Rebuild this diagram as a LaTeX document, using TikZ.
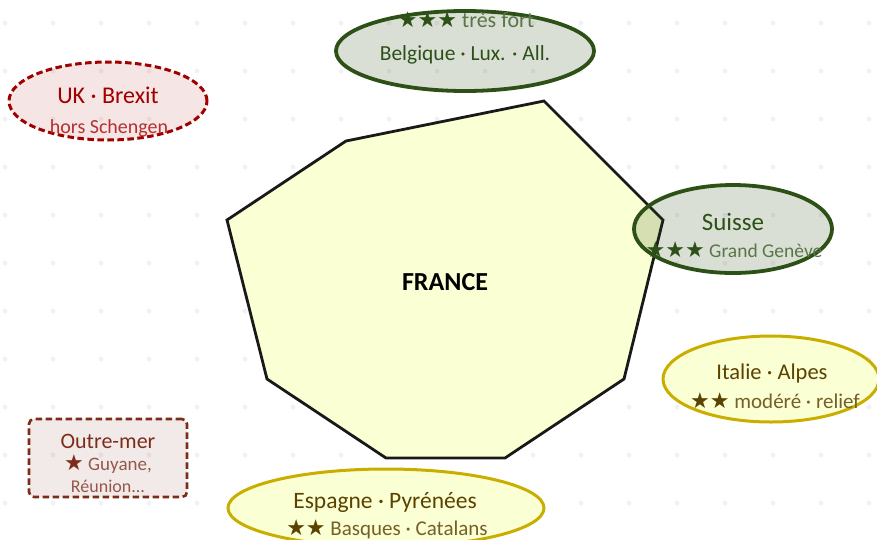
\documentclass[tikz,border=0pt]{standalone}
\usepackage{fontspec}
\setmainfont{Carlito}
\newfontfamily\starfont{DejaVu Sans}
\usetikzlibrary{shapes.geometric}
\definecolor{grn}{HTML}{2D5016}
\definecolor{grnsub}{HTML}{5A7548}
\definecolor{redd}{HTML}{A00000}
\definecolor{redsub}{HTML}{B5302F}
\definecolor{gold}{HTML}{C9AE00}
\definecolor{brn}{HTML}{5C4200}
\definecolor{brnsub}{HTML}{765F28}
\definecolor{rust}{HTML}{7B2D1A}
\definecolor{rustsub}{HTML}{96574A}
\definecolor{paper}{HTML}{FBFFD4}
\newcommand{\strs}[1]{{\starfont\fontsize{22}{22}\selectfont #1}}
\tikzset{
  x=1pt,y=-1pt,
  griddot/.style={circle,fill=black!5,draw=none,minimum size=5pt,inner sep=0pt},
  france/.style={draw=black!90,line width=2.8pt,fill=paper,line join=miter},
  zone/.style={ellipse,inner sep=0pt,line width=#1},
  zone/.default=3.8pt,
  strong/.style={zone,draw=grn,fill=grn,fill opacity=.18,draw opacity=1},
  medium/.style={zone=3pt,draw=gold,fill=paper},
  weakred/.style={zone=3pt,draw=redd,fill=redd,fill opacity=.1,dash pattern=on 6.5pt off 3.5pt},
  weakbox/.style={rectangle,rounded corners=5pt,inner sep=0pt,line width=2.6pt,draw=rust,fill=rust,fill opacity=.1,dash pattern=on 6.5pt off 3.5pt,minimum width=158pt,minimum height=78pt},
  title/.style={inner sep=0pt,font=\fontsize{#1}{#1}\selectfont},
  sub/.style={inner sep=0pt,font=\fontsize{#1}{#1}\selectfont},
}
\begin{document}
\begin{tikzpicture}
\useasboundingbox (0,0) rectangle (877,544);
\clip (0,0) rectangle (877,539);
\foreach \i in {0,...,18}{\foreach \j in {0,...,10}{
  \node[griddot] (d\i-\j) at ({5+48*\i},{23+48*\j}) {};
}}
\draw[france] (544,101) -- (663,220) -- (624,379) -- (505,458) -- (386,458) -- (267,379) -- (227,220) -- (346,141) -- cycle;
\node[inner sep=0pt,font=\fontsize{26}{26}\selectfont\bfseries] (fr) at (445,282) {FRANCE};

\node[strong,minimum width=258pt,minimum height=80pt] (be) at (465,51) {};
\node[title=21.5,text=grn] (bet) at (465,55) {Belgique · Lux. · All.};
\node[sub=22,text=grnsub] (bes) at (466,20) {\textcolor{grn}{\strs{★★★}} très fort};

\node[strong,minimum width=198pt,minimum height=88pt] (ch) at (733,229) {};
\node[title=25,text=grn] (cht) at (733,222) {Suisse};
\node[sub=19.5,text=grnsub] (chs) at (734,250) {\textcolor{grn}{\strs{★★★}} Grand Genève};

\node[weakred,minimum width=198pt,minimum height=78pt] (uk) at (108,101) {};
\node[title=24,text=redd] (ukt) at (108,95) {UK · Brexit};
\node[sub=20,text=redsub] (uks) at (109,128) {hors Schengen};

\node[medium,minimum width=216pt,minimum height=86pt] (it) at (771,379) {};
\node[title=22.5,text=brn] (itt) at (772,373) {Italie · Alpes};
\node[sub=21,text=brnsub] (its) at (775,401) {\textcolor{brn}{\strs{★★}} modéré · relief};

\node[medium,minimum width=316pt,minimum height=78pt] (es) at (386,508) {};
\node[title=23.5,text=brn] (est) at (385,502) {Espagne · Pyrénées};
\node[sub=21,text=brnsub] (ess) at (387,529) {\textcolor{brn}{\strs{★★}} Basques · Catalans};

\node[weakbox] (om) at (108,458) {};
\node[title=22,text=rust] (omt) at (108,441) {Outre-mer};
\node[sub=19,text=rustsub] (oms) at (108,464) {\textcolor{rust}{\strs{★}} Guyane,};
\node[sub=18,text=rustsub] (omr) at (108,486) {Réunion...};
\end{tikzpicture}
\end{document}
